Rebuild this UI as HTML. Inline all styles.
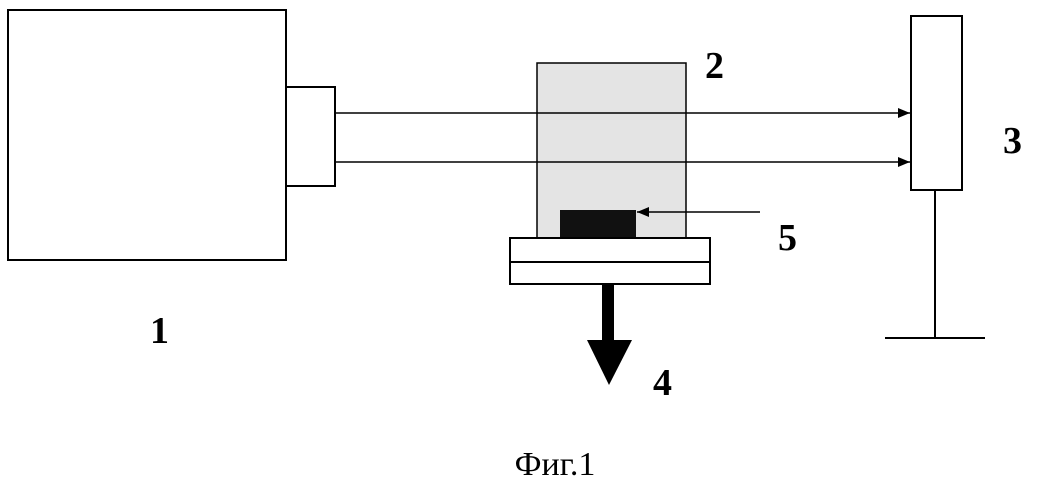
<!DOCTYPE html>
<html><head><meta charset="utf-8"><style>
html,body{margin:0;padding:0;background:#fff;}
svg{display:block;}
text{font-family:"Liberation Serif",serif;fill:#000;}
</style></head><body>
<svg width="1043" height="483" viewBox="0 0 1043 483" xmlns="http://www.w3.org/2000/svg">
<defs>
<marker id="ah" markerWidth="12" markerHeight="10" refX="12" refY="5" orient="auto" markerUnits="userSpaceOnUse">
<path d="M0,0 L12,5 L0,10 Z" fill="#000"/>
</marker>
</defs>
<rect x="8" y="10" width="278" height="250" fill="#fff" stroke="#000" stroke-width="2"/>
<rect x="286" y="87" width="49" height="99" fill="#fff" stroke="#000" stroke-width="2"/>
<rect x="537" y="63" width="149" height="175" fill="#e4e4e4" stroke="#000" stroke-width="1.5"/>
<line x1="335" y1="113" x2="910" y2="113" stroke="#000" stroke-width="1.5" marker-end="url(#ah)"/>
<line x1="335" y1="162" x2="910" y2="162" stroke="#000" stroke-width="1.5" marker-end="url(#ah)"/>
<rect x="560" y="210" width="76" height="28" fill="#111"/>
<line x1="760" y1="212" x2="637" y2="212" stroke="#000" stroke-width="1.5" marker-end="url(#ah)"/>
<rect x="510" y="238" width="200" height="46" fill="#fff" stroke="#000" stroke-width="2"/>
<line x1="510" y1="262" x2="710" y2="262" stroke="#000" stroke-width="2"/>
<rect x="602" y="284" width="12" height="58" fill="#000"/>
<path d="M587,340 L632,340 L609,385 Z" fill="#000"/>
<rect x="911" y="16" width="51" height="174" fill="#fff" stroke="#000" stroke-width="2"/>
<line x1="935" y1="190" x2="935" y2="338" stroke="#000" stroke-width="2"/>
<line x1="885" y1="338" x2="985" y2="338" stroke="#000" stroke-width="2"/>
<text x="705" y="78" font-size="38" font-weight="bold">2</text>
<text x="1003" y="153" font-size="38" font-weight="bold">3</text>
<text x="778" y="250" font-size="38" font-weight="bold">5</text>
<text x="150" y="343" font-size="38" font-weight="bold">1</text>
<text x="653" y="395" font-size="38" font-weight="bold">4</text>
<text x="555" y="475" font-size="34" text-anchor="middle">Фиг.1</text>
</svg>
</body></html>
